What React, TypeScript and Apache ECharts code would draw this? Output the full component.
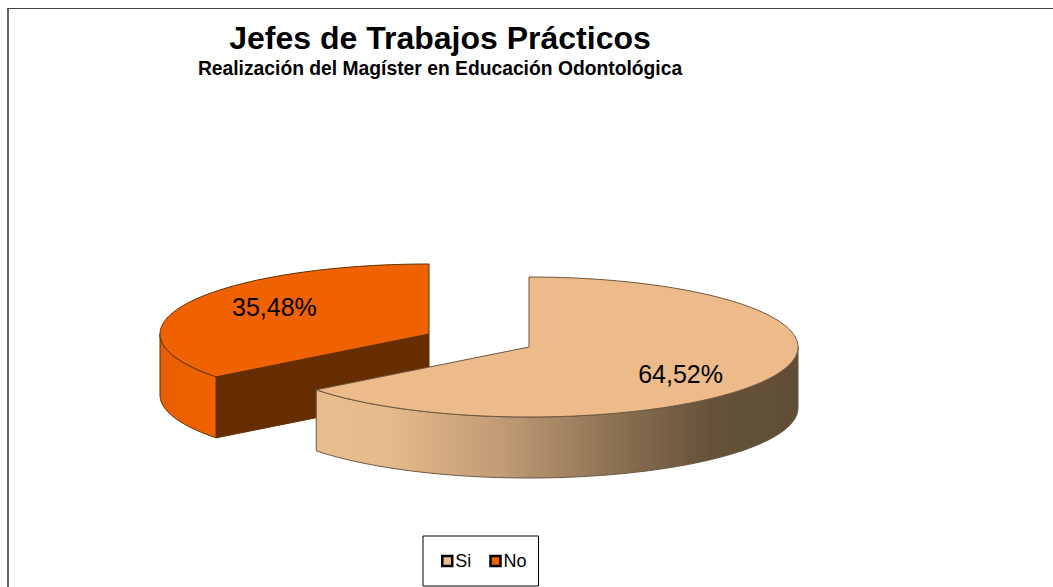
import React, { useEffect, useRef } from "react";
import * as echarts from "echarts";

const categories = ["Si", "No"];
const values = [64.52, 35.48];
const labels = ["64,52%", "35,48%"];
const titleText = "Jefes de Trabajos Prácticos";
const subtitleText = "Realización del Magíster en Educación Odontológica";

const topColors = ["#EDBB8A", "#F06200"];
const cutColor = "#662D00";
const centers: [number, number][] = [[529, 347], [429, 334]];
const RX = 269;
const RY = 70;
const DEPTH = 61;
const LABEL_FX = 0.634;
const LABEL_FY = 0.87;
const LABEL_SHIFT = -1.5;
const total = values.reduce((a, b) => a + b, 0);

function pt(c: [number, number], deg: number, dy = 0): number[] {
  const a = (deg * Math.PI) / 180;
  return [c[0] + RX * Math.sin(a), c[1] - RY * Math.cos(a) + dy];
}

function arc(c: [number, number], from: number, to: number, dy = 0): number[][] {
  const n = Math.max(2, Math.ceil(Math.abs(to - from)));
  const out: number[][] = [];
  for (let i = 0; i <= n; i++) out.push(pt(c, from + ((to - from) * i) / n, dy));
  return out;
}

function sliceRenderer(index: number) {
  return () => {
    const start = (values.slice(0, index).reduce((a, b) => a + b, 0) / total) * 360;
    const end = start + (values[index] / total) * 360;
    const c = centers[index];
    const mid = ((start + end) / 2) * (Math.PI / 180);
    const edge = index === 0 ? "#6B5640" : "#5A3000";
    const children: any[] = [];

    const wallFrom = Math.max(start, 90);
    const wallTo = Math.min(end, 270);
    if (wallTo > wallFrom) {
      const top = arc(c, wallFrom, wallTo);
      const bottom = arc(c, wallFrom, wallTo, DEPTH).reverse();
      const fill =
        index === 0
          ? new echarts.graphic.LinearGradient(1, 0, 0, 0, [
              { offset: 0, color: "#5F4D36" },
              { offset: 0.18, color: "#655239" },
              { offset: 0.38, color: "#8C7153" },
              { offset: 0.62, color: "#C29C76" },
              { offset: 0.85, color: "#E6BA8B" },
              { offset: 1, color: "#E8BC8C" },
            ])
          : new echarts.graphic.LinearGradient(0, 0, 1, 0, [
              { offset: 0, color: "#E85E00" },
              { offset: 1, color: "#F06200" },
            ]);
      children.push({
        type: "polygon",
        shape: { points: [...top, ...bottom] },
        style: { fill, stroke: edge, lineWidth: 1 },
      });
    }

    if (index === 1) {
      const e = pt(c, start);
      children.push({
        type: "polygon",
        shape: { points: [[c[0], c[1]], e, [e[0], e[1] + DEPTH], [c[0], c[1] + DEPTH]] },
        style: { fill: cutColor, stroke: cutColor, lineWidth: 1 },
      });
    }

    children.push({
      type: "polygon",
      shape: { points: [[c[0], c[1]], ...arc(c, start, end)] },
      style: { fill: topColors[index], stroke: edge, lineWidth: 1 },
    });

    children.push({
      type: "text",
      style: {
        text: labels[index],
        x: c[0] + RX * LABEL_FX * Math.sin(mid) + LABEL_SHIFT,
        y: c[1] - RY * LABEL_FY * Math.cos(mid),
        align: "center",
        verticalAlign: "middle",
        fill: "#000",
        font: '25px "Liberation Sans", Arial, sans-serif',
      },
    });
    return { type: "group", children };
  };
}

export default function App() {
  const ref = useRef<HTMLDivElement>(null);
  useEffect(() => {
    const chart = echarts.init(ref.current!, undefined, { renderer: "svg" });
    const font = '"Liberation Sans", Arial, sans-serif';
    chart.setOption({
      animation: false,
      backgroundColor: "#fff",
      title: {
        text: titleText,
        subtext: subtitleText,
        left: 440,
        top: 20,
        textAlign: "center",
        itemGap: 3,
        padding: 0,
        textStyle: { fontFamily: font, fontSize: 32, fontWeight: "bold", color: "#000", lineHeight: 35 },
        subtextStyle: { fontFamily: font, fontSize: 19.3, fontWeight: "bold", color: "#000", lineHeight: 20 },
      },
      legend: {
        data: categories.map((name) => ({
          name,
          itemStyle: { borderColor: "#000", borderWidth: 2.5 },
        })),
        left: 423,
        top: 536,
        orient: "horizontal",
        padding: [16, 12, 16, 18],
        itemGap: 18,
        itemWidth: 10,
        itemHeight: 10,
        icon: "rect",
        borderColor: "#000",
        borderWidth: 1,
        selectedMode: false,
        textStyle: { fontFamily: font, fontSize: 18, color: "#000", padding: [0, 0, 0, -2] },
      },
      graphic: [
        { type: "line", silent: true, shape: { x1: 8, y1: 8, x2: 8, y2: 587 }, style: { stroke: "#666", lineWidth: 2 } },
        { type: "line", silent: true, shape: { x1: 7, y1: 8.5, x2: 1053, y2: 8.5 }, style: { stroke: "#444", lineWidth: 1 } },
      ],
      series: [1, 0].map((i) => ({
        type: "custom",
        name: categories[i],
        coordinateSystem: "none",
        data: [values[i]],
        color: topColors[i],
        itemStyle: { color: topColors[i], borderColor: "#000", borderWidth: 2 },
        renderItem: sliceRenderer(i),
      })),
    });
    return () => chart.dispose();
  }, []);
  return <div ref={ref} style={{ position: "fixed", left: 0, top: 0, width: 1053, height: 587 }} />;
}
